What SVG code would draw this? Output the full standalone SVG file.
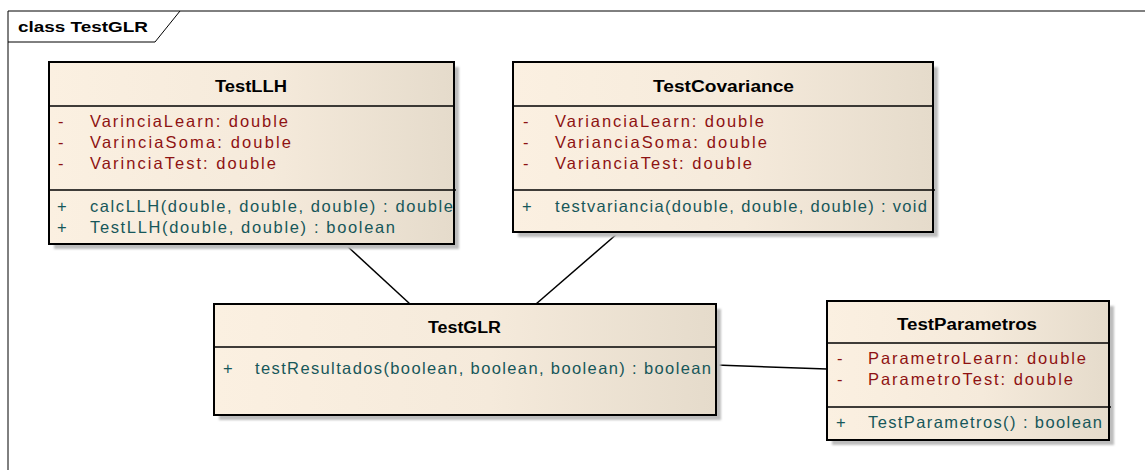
<svg xmlns="http://www.w3.org/2000/svg" width="1145" height="470" viewBox="0 0 1145 470">
<defs>
<linearGradient id="g" x1="0" y1="0" x2="1" y2="0">
<stop offset="0" stop-color="#FBF0E1"/>
<stop offset="0.55" stop-color="#F5EADB"/>
<stop offset="1" stop-color="#E5DBCB"/>
</linearGradient>
<filter id="blur" x="-5%" y="-5%" width="110%" height="110%"><feGaussianBlur stdDeviation="1"/></filter>
</defs>
<style>
text{font-family:"Liberation Sans",Arial,sans-serif;font-size:16.5px}
.box{fill:url(#g);stroke:#000;stroke-width:2}
.sh{fill:#BDBDBD;filter:url(#blur)}
.sep{stroke:#000;stroke-width:1.5}
.t{font-weight:bold;fill:#000;font-size:16px}
.a{fill:#8E1212}
.m{fill:#17575A}
.con line{stroke:#000;stroke-width:1.5}
.frame{fill:none;stroke:#000;stroke-width:1}
</style>
<rect width="1145" height="470" fill="#fff"/>
<g id="frame">
<polyline class="frame" points="8,470 8,11 1145,11"/>
<polyline class="frame" points="8,42 155,42 180,11" stroke="#555" stroke-width="1.5"/>
<text x="18" y="32" style="font-weight:bold;font-size:15px" textLength="130" lengthAdjust="spacingAndGlyphs">class TestGLR</text>
</g>
<g id="connectors" class="con">
<line x1="346" y1="245" x2="410" y2="304"/>
<line x1="618" y1="233" x2="536" y2="304"/>
<line x1="716" y1="365" x2="827" y2="369"/>
</g>
<g id="TestLLH">
<rect class="sh" x="54" y="67" width="405" height="182"/>
<rect class="box" x="49" y="62" width="405" height="182"/>
<line class="sep" x1="49" y1="106" x2="454" y2="106"/>
<line class="sep" x1="49" y1="190" x2="456" y2="190"/>
<text class="t" x="215" y="92" textLength="72" lengthAdjust="spacingAndGlyphs">TestLLH</text>
<text class="a" x="58" y="127">-</text><text class="a" x="90" y="127" textLength="198" lengthAdjust="spacing">VarinciaLearn:  double</text>
<text class="a" x="58" y="148">-</text><text class="a" x="90" y="148" textLength="201" lengthAdjust="spacing">VarinciaSoma:  double</text>
<text class="a" x="58" y="169">-</text><text class="a" x="90" y="169" textLength="186" lengthAdjust="spacing">VarinciaTest:  double</text>
<text class="m" x="57" y="212">+</text><text class="m" x="90" y="212" textLength="363" lengthAdjust="spacing">calcLLH(double, double, double) : double</text>
<text class="m" x="57" y="233">+</text><text class="m" x="90" y="233" textLength="305" lengthAdjust="spacing">TestLLH(double, double) : boolean</text>
</g>
<g id="TestCovariance">
<rect class="sh" x="518" y="67" width="420" height="170"/>
<rect class="box" x="513" y="62" width="420" height="170"/>
<line class="sep" x1="513" y1="106" x2="933" y2="106"/>
<line class="sep" x1="513" y1="190" x2="935" y2="190"/>
<text class="t" x="653" y="92" textLength="141" lengthAdjust="spacingAndGlyphs">TestCovariance</text>
<text class="a" x="523" y="127">-</text><text class="a" x="555" y="127" textLength="209" lengthAdjust="spacing">VarianciaLearn:  double</text>
<text class="a" x="523" y="148">-</text><text class="a" x="555" y="148" textLength="212" lengthAdjust="spacing">VarianciaSoma:  double</text>
<text class="a" x="523" y="169">-</text><text class="a" x="555" y="169" textLength="197" lengthAdjust="spacing">VarianciaTest:  double</text>
<text class="m" x="522" y="212">+</text><text class="m" x="555" y="212" textLength="372" lengthAdjust="spacing">testvariancia(double, double, double) : void</text>
</g>
<g id="TestGLR">
<rect class="sh" x="219" y="309" width="502" height="111"/>
<rect class="box" x="214" y="304" width="502" height="111"/>
<line class="sep" x1="214" y1="347" x2="716" y2="347"/>
<text class="t" x="428" y="333" textLength="73" lengthAdjust="spacingAndGlyphs">TestGLR</text>
<text class="m" x="223" y="374">+</text><text class="m" x="255" y="374" textLength="456" lengthAdjust="spacing">testResultados(boolean, boolean, boolean) : boolean</text>
</g>
<g id="TestParametros">
<rect class="sh" x="832" y="306" width="282" height="139"/>
<rect class="box" x="827" y="301" width="282" height="139"/>
<line class="sep" x1="827" y1="343" x2="1109" y2="343"/>
<line class="sep" x1="827" y1="407" x2="1111" y2="407"/>
<text class="t" x="897" y="330" textLength="140" lengthAdjust="spacingAndGlyphs">TestParametros</text>
<text class="a" x="837" y="364">-</text><text class="a" x="868" y="364" textLength="218" lengthAdjust="spacing">ParametroLearn:  double</text>
<text class="a" x="837" y="385">-</text><text class="a" x="868" y="385" textLength="205" lengthAdjust="spacing">ParametroTest:  double</text>
<text class="m" x="836" y="428">+</text><text class="m" x="868" y="428" textLength="234" lengthAdjust="spacing">TestParametros() : boolean</text>
</g>
</svg>
